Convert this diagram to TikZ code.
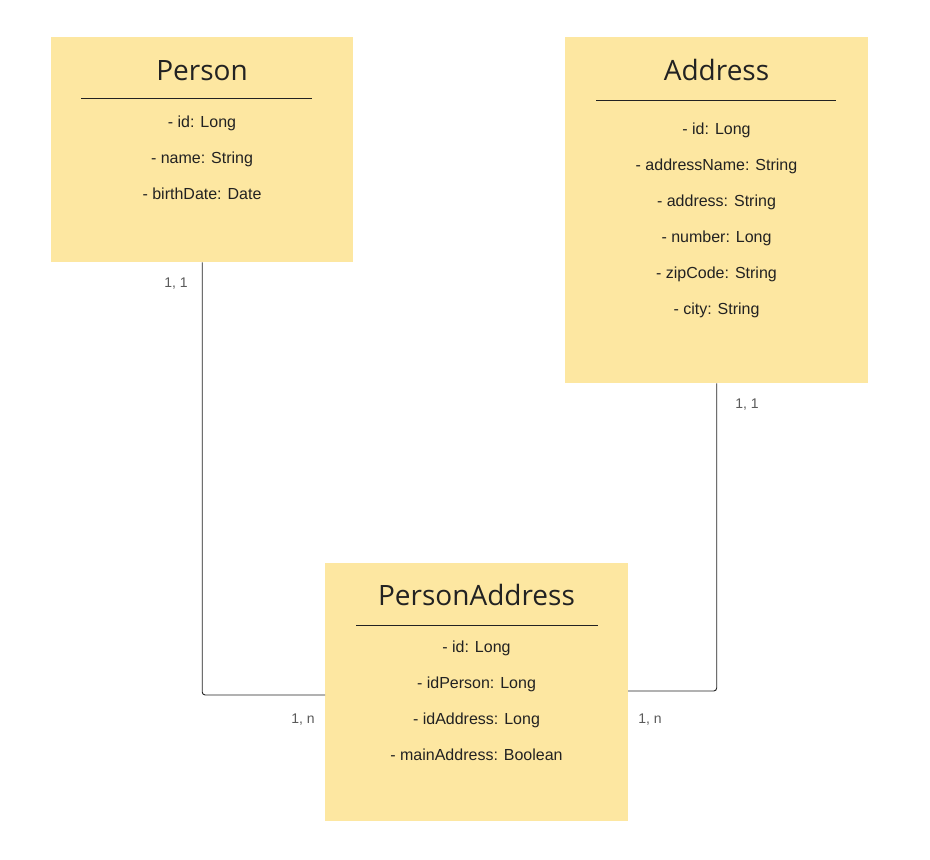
\documentclass[tikz,border=0pt]{standalone}
\usepackage{fontspec}
\setmainfont{Liberation Sans}
\newfontfamily\titlefont{Open Sans}
\usetikzlibrary{positioning}
\definecolor{notefill}{RGB}{253,231,161}
\definecolor{cardgrey}{RGB}{90,90,90}
\definecolor{inkdark}{RGB}{34,34,34}

\begin{document}
\begin{tikzpicture}[x=1pt, y=-1pt,
    box/.style={fill=notefill, draw=none, anchor=north west, inner sep=0pt},
    titletext/.style={anchor=base, inner sep=0pt, text=inkdark, font=\titlefont\fontsize{28}{32}\selectfont},
    attr/.style={anchor=base, inner sep=0pt, text=inkdark, font=\fontsize{16}{18}\selectfont},
    card/.style={anchor=base, inner sep=0pt, text=cardgrey, font=\fontsize{14}{16}\selectfont},
    rule/.style={draw=inkdark, line width=0.9pt},
    link/.style={draw=inkdark, line width=0.9pt, rounded corners=3pt}]
    \useasboundingbox[fill=white] (0,0) rectangle (930,860);

    % Person
    \node[box, minimum width=302pt, minimum height=225pt] (person) at (51,37) {};
    \node[titletext] (persontitle) at (202,80) {Person};
    \draw[rule] (81,98) -- (312,98);
    \node[attr] (personid) at (202,127) {- id: Long};
    \node[attr] (personname) at (202,163) {- name: String};
    \node[attr] (personbirth) at (202,199) {- birthDate: Date};

    % Address
    \node[box, minimum width=303pt, minimum height=346pt] (address) at (565,37) {};
    \node[titletext] (addresstitle) at (716.5,80) {Address};
    \draw[rule] (596,100) -- (836,100);
    \node[attr] (addressid) at (716.5,134) {- id: Long};
    \node[attr] (addressname) at (716.5,170) {- addressName: String};
    \node[attr] (addressaddr) at (716.5,206) {- address: String};
    \node[attr] (addressnum) at (716.5,242) {- number: Long};
    \node[attr] (addresszip) at (716.5,278) {- zipCode: String};
    \node[attr] (addresscity) at (716.5,314) {- city: String};

    % PersonAddress
    \node[box, minimum width=303pt, minimum height=258pt] (personaddress) at (325,563) {};
    \node[titletext] (patitle) at (476.5,605) {PersonAddress};
    \draw[rule] (356,625) -- (598,625);
    \node[attr] (paid) at (476.5,652) {- id: Long};
    \node[attr] (paperson) at (476.5,688) {- idPerson: Long};
    \node[attr] (paaddress) at (476.5,724) {- idAddress: Long};
    \node[attr] (pamain) at (476.5,760) {- mainAddress: Boolean};

    % connectors
    \coordinate (pajoinL) at (325,695);
    \coordinate (pajoinR) at (628,691);
    \draw[link] (person.south) |- (pajoinL);
    \draw[link] (address.south) |- (pajoinR);

    \node[card] (personcard) at (176,287) {1, 1};
    \node[card] (palcard) at (303,723) {1, n};
    \node[card] (addresscard) at (747,408) {1, 1};
    \node[card] (parcard) at (650,723) {1, n};
\end{tikzpicture}
\end{document}
